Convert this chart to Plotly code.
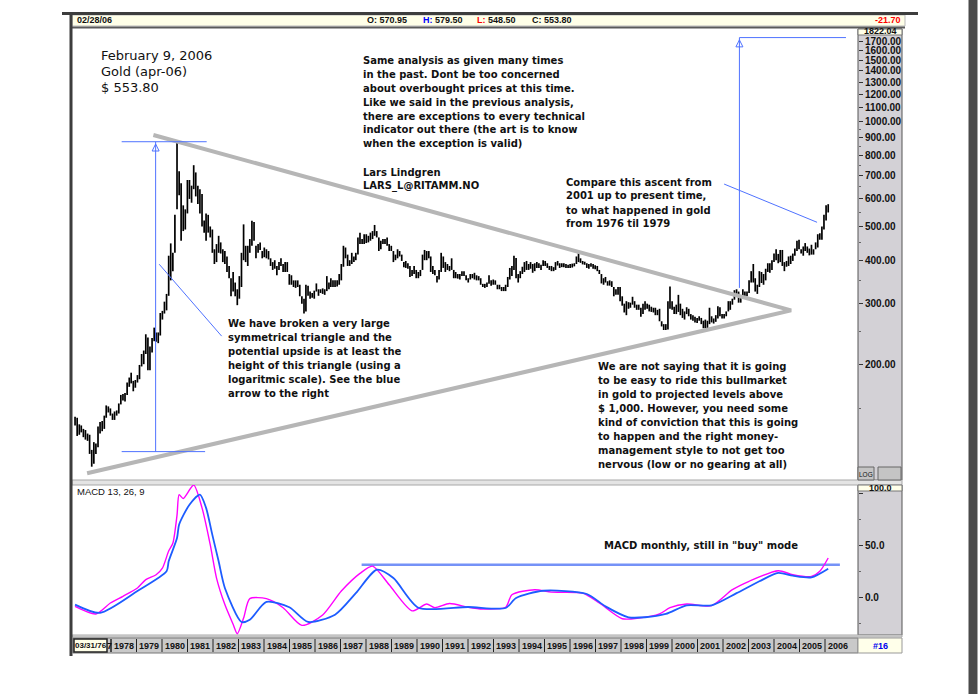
import numpy as np
import pandas as pd
import plotly.graph_objects as go

# monthly gold bars, Dec 1975 .. Feb 2006 (high / low)
first_month = "1975-12-01"

highs = [
    142,
    141, 135, 134, 131, 130, 127, 126, 114, 120, 119, 133, 137,   # 1976
    138, 143, 153, 152, 150, 145, 147, 148, 155, 164, 165, 166,   # 1977
    178, 184, 190, 180, 181, 187, 200, 215, 220, 245, 240, 226,   # 1978
    239, 256, 248, 248, 282, 286, 304, 320, 412, 447, 420, 540,   # 1979
    875, 720, 665, 575, 560, 680, 680, 655, 750, 715, 655, 640,   # 1980
    620, 520, 545, 540, 500, 490, 430, 445, 470, 450, 430, 425,   # 1981
    410, 385, 355, 370, 345, 330, 360, 420, 507, 440, 440, 460,   # 1982
    519, 515, 440, 445, 450, 425, 435, 430, 425, 405, 395, 400,   # 1983
    385, 395, 405, 390, 395, 395, 365, 362, 350, 350, 350, 340,   # 1984
    315, 310, 340, 338, 325, 322, 327, 343, 330, 330, 332, 330,   # 1985
    360, 345, 355, 350, 350, 350, 365, 390, 440, 435, 415, 400,   # 1986
    420, 410, 420, 465, 480, 460, 475, 475, 470, 480, 485, 505,   # 1987
    485, 465, 455, 460, 460, 465, 445, 440, 425, 415, 430, 425,   # 1988
    415, 395, 398, 392, 385, 375, 385, 375, 370, 375, 415, 428,   # 1989
    425, 425, 410, 385, 375, 360, 375, 420, 410, 395, 390, 385,   # 1990
    405, 375, 370, 365, 365, 372, 372, 362, 355, 365, 365, 368,   # 1991
    362, 360, 355, 342, 342, 345, 362, 350, 352, 350, 340, 340,   # 1992
    335, 335, 340, 358, 380, 385, 412, 406, 365, 372, 383, 395,   # 1993
    398, 390, 395, 390, 392, 395, 392, 388, 400, 398, 392, 385,   # 1994
    385, 382, 395, 398, 392, 392, 392, 390, 388, 390, 391, 392,   # 1995
    410, 419, 405, 398, 396, 392, 390, 392, 390, 387, 385, 375,   # 1996
    365, 355, 358, 348, 350, 348, 335, 330, 335, 335, 315, 300,   # 1997
    305, 303, 302, 314, 305, 298, 298, 292, 300, 305, 300, 298,   # 1998
    294, 292, 292, 288, 290, 267, 262, 262, 305, 336, 305, 294,   # 1999
    298, 318, 300, 290, 285, 293, 290, 280, 278, 275, 273, 276,   # 2000
    273, 268, 270, 268, 292, 276, 272, 278, 295, 293, 280, 280,   # 2001
    285, 305, 305, 310, 328, 330, 325, 315, 330, 325, 325, 350,   # 2002
    372, 390, 355, 340, 372, 370, 365, 378, 392, 392, 400, 418,   # 2003
    430, 417, 428, 428, 395, 398, 410, 412, 418, 432, 455, 458,   # 2004
    430, 438, 448, 438, 432, 443, 430, 450, 475, 478, 500, 540,   # 2005
    575, 579.5,                                                   # 2006
]

lows = [
    134,
    125, 126, 128, 124, 122, 121, 111, 102, 104, 111, 116, 127,
    129, 131, 141, 146, 143, 139, 139, 143, 145, 154, 158, 157,
    164, 173, 177, 168, 172, 178, 182, 198, 201, 215, 193, 193,
    217, 234, 233, 231, 243, 270, 281, 287, 316, 350, 372, 420,
    560, 615, 455, 485, 490, 545, 600, 585, 640, 610, 580, 545,
    500, 480, 455, 480, 465, 420, 390, 395, 420, 418, 395, 390,
    370, 355, 315, 325, 315, 297, 310, 335, 400, 395, 385, 420,
    440, 455, 405, 420, 428, 405, 408, 405, 402, 385, 375, 378,
    362, 375, 385, 370, 370, 370, 340, 340, 335, 333, 335, 315,
    300, 281, 285, 316, 310, 312, 310, 325, 316, 322, 320, 318,
    326, 330, 335, 335, 335, 336, 340, 350, 383, 405, 385, 385,
    390, 395, 400, 415, 445, 445, 445, 448, 450, 455, 460, 470,
    465, 425, 430, 445, 445, 440, 425, 425, 395, 400, 405, 410,
    398, 382, 380, 378, 358, 360, 365, 355, 355, 360, 375, 400,
    400, 405, 370, 365, 362, 345, 352, 370, 380, 370, 375, 372,
    375, 355, 355, 354, 352, 360, 360, 350, 345, 352, 355, 352,
    350, 350, 340, 335, 333, 335, 342, 338, 340, 340, 330, 330,
    326, 326, 326, 335, 352, 360, 375, 355, 345, 355, 365, 370,
    375, 375, 378, 368, 372, 380, 380, 375, 385, 385, 380, 375,
    372, 372, 375, 386, 380, 382, 382, 380, 380, 380, 381, 384,
    390, 395, 393, 389, 388, 380, 378, 383, 378, 377, 372, 365,
    343, 340, 345, 338, 338, 335, 315, 318, 318, 305, 296, 283,
    278, 290, 292, 298, 292, 288, 288, 275, 280, 288, 290, 285,
    284, 283, 278, 278, 267, 258, 252, 252, 253, 290, 288, 280,
    280, 284, 278, 273, 270, 280, 276, 270, 268, 265, 264, 268,
    262, 255, 255, 255, 262, 265, 263, 266, 272, 276, 272, 272,
    276, 285, 288, 298, 308, 315, 302, 302, 310, 310, 315, 322,
    345, 345, 325, 320, 335, 344, 340, 350, 370, 368, 375, 395,
    400, 392, 395, 385, 372, 383, 385, 390, 398, 412, 425, 430,
    418, 412, 425, 420, 413, 415, 415, 430, 435, 458, 458, 490,
    520, 548.5,
]

# MACD 13,26,9 (magenta) and its signal line (blue)
fast_dates = ["1975-12", "1976-10", "1977-05", "1977-11", "1978-06", "1978-10", "1979-03",
              "1979-06", "1979-09", "1979-11", "1980-01", "1980-02", "1980-04", "1980-09",
              "1981-01", "1981-05", "1981-08", "1981-12", "1982-04", "1982-06", "1982-09",
              "1982-12", "1983-08", "1984-04", "1985-01", "1985-11", "1986-08", "1987-05",
              "1987-11", "1988-07", "1989-06", "1990-01", "1990-05", "1990-12", "1991-09",
              "1992-04", "1993-03", "1993-06", "1994-05", "1995-01", "1996-04", "1996-12",
              "1997-11", "1998-07", "1999-05", "1999-10", "2000-06", "2001-06", "2002-04",
              "2002-12", "2004-02", "2004-09", "2005-06", "2005-10", "2006-02"]
fast_values = [-8.7, -16, -5.5, 1, 9, 17, 21.7,
               28, 44.5, 52, 79, 98.7, 95, 108,
               86, 50.6, 18.5, -7, -26, -35, -20,
               -1.3, -1.3, -10, -27, -17, 6, 23,
               30, 12, -13, -6.5, -10, -6, -9.6,
               -11.3, -9.6, 2.5, 7.3, 5, 4, -5.5,
               -20.6, -20, -16, -10, -6.5, -8, 7.3,
               15.4, 25.6, 21.7, 20, 25, 37.8]

signal_dates = ["1975-12", "1976-12", "1978-06", "1979-08", "1979-09", "1980-01", "1980-02",
                "1980-07", "1980-12", "1981-03", "1981-06", "1981-09", "1981-12", "1982-08",
                "1982-12", "1983-08", "1984-07", "1985-04", "1986-05", "1987-03", "1988-01",
                "1988-09", "1989-09", "1991-09", "1993-03", "1993-08", "1994-09", "1996-06",
                "1997-03", "1998-02", "1998-10", "1999-08", "2000-06", "2001-06", "2002-06",
                "2003-05", "2004-02", "2004-09", "2005-06", "2006-02"]
signal_values = [-7, -15, 6, 25, 34.6, 57, 70,
                 89, 98.7, 86, 60, 34.6, 9, -23.7,
                 -21.5, -4.5, -9.6, -23.7, -16.7, 4, 26.5,
                 18.5, -10, -9.3, -10.3, -0.7, 6.3, 3.2,
                 -8.7, -19.2, -19.2, -16, -7.7, -7.7, 4,
                 15.4, 23.4, 20.8, 19.2, 27.5]

# hand drawn lines on the chart (date, price)
triangle_dates = ["1979-01-20", "2004-08-07", "1976-05-25"]
triangle_prices = [916, 287, 97.7]
left_arrow_date = "1979-02-22"
left_arrow_prices = [112.7, 876]
left_bar_dates = ["1977-10-13", "1981-03-10"]
left_bar_low_dates = ["1977-10-13", "1981-02-15"]
right_arrow_date = "2002-07-13"
right_arrow_prices = [333, 1745]
right_bar_dates = ["2002-07-13", "2006-10-19"]
left_pointer_dates = ["1979-04-15", "1981-10-15"]
left_pointer_prices = [389.5, 242]
right_pointer_dates = ["2001-12-01", "2005-08-22"]
right_pointer_prices = [662, 514]
macd_level_dates = ["1987-05-25", "2006-07-22"]
macd_level = 31.3

price_ticks = [200, 300, 400, 500, 600, 700, 800, 900,
               1000, 1100, 1200, 1300, 1400, 1500, 1600, 1700]
price_minor = [150, 250, 350, 450, 550, 650, 750, 850, 950]
macd_ticks = [0, 50, 100]
strip_years = list(range(1978, 2007))

months = pd.date_range(first_month, periods=len(highs), freq="MS")

# pixel helpers for the decoration around the plot area
L, R, T, B = 73, 858, 29, 635
def px(x):
    return (x - L) / (R - L)
def py(y):
    return (B - y) / (B - T)

fig = go.Figure()

bx, by = [], []
for d, h, l in zip(months, highs, lows):
    bx += [d, d, None]
    by += [h, l, None]
fig.add_trace(go.Scatter(x=bx, y=by, mode="lines", line=dict(color="#000000", width=1.7),
                         hoverinfo="skip", yaxis="y"))

grey = "#b6b6b6"
blue = "#4f72ff"
fig.add_trace(go.Scatter(x=triangle_dates, y=triangle_prices, mode="lines",
                         line=dict(color=grey, width=4), yaxis="y"))
for xs, ys in [([left_arrow_date] * 2, left_arrow_prices),
               (left_bar_dates, [left_arrow_prices[1]] * 2),
               (left_bar_low_dates, [left_arrow_prices[0]] * 2),
               ([right_arrow_date] * 2, right_arrow_prices),
               (right_bar_dates, [right_arrow_prices[1]] * 2),
               (left_pointer_dates, left_pointer_prices),
               (right_pointer_dates, right_pointer_prices)]:
    fig.add_trace(go.Scatter(x=xs, y=ys, mode="lines", line=dict(color=blue, width=1), yaxis="y"))
fig.add_trace(go.Scatter(x=[left_arrow_date, right_arrow_date],
                         y=[left_arrow_prices[1] * 0.985, right_arrow_prices[1] * 0.985],
                         mode="markers", yaxis="y",
                         marker=dict(symbol="arrow-up-open", size=7, color=blue,
                                     line=dict(color=blue, width=1))))

fig.add_trace(go.Scatter(x=macd_level_dates, y=[macd_level] * 2, mode="lines",
                         line=dict(color="#7592f7", width=2.5), yaxis="y2"))
fig.add_trace(go.Scatter(x=pd.to_datetime(fast_dates), y=fast_values, mode="lines",
                         line=dict(color="#ff00ff", width=1.4, shape="spline", smoothing=0.7),
                         yaxis="y2"))
fig.add_trace(go.Scatter(x=pd.to_datetime(signal_dates), y=signal_values, mode="lines",
                         line=dict(color="#1d5cff", width=1.8, shape="spline", smoothing=0.7),
                         yaxis="y2"))

axis_font = dict(family="Liberation Sans", size=10, color="#111111", weight="bold")
fig.update_layout(
    width=978, height=694, autosize=False,
    margin=dict(l=L, r=978 - R, t=T, b=694 - B),
    paper_bgcolor="white", plot_bgcolor="white",
    showlegend=False, hovermode=False,
    xaxis=dict(range=["1975-11-01", "2007-04-13"], visible=False, showgrid=False),
    yaxis=dict(domain=[py(480), 1], type="log", range=[np.log10(93.4), np.log10(1847)],
               side="right", showgrid=False, zeroline=False, showline=False,
               tickvals=price_ticks, ticktext=[f"{v:.2f}" for v in price_ticks],
               ticks="outside", ticklen=4, tickcolor="#333", tickfont=axis_font,
               minor=dict(tickvals=price_minor, ticks="outside", ticklen=2, tickcolor="#666")),
    yaxis2=dict(domain=[0, py(485)], range=[-36.25, 108], side="right", anchor="x",
                showgrid=False, zeroline=False, showline=False,
                tickvals=macd_ticks,
                ticktext=[f"{v:.1f}" if v < 100 else "" for v in macd_ticks],
                ticks="outside", ticklen=4, tickcolor="#333", tickfont=axis_font,
                minor=dict(tickvals=[-25, 25, 75], ticks="outside", ticklen=2, tickcolor="#666")),
)

shapes = []
def rect(x0, y0, x1, y1, fill, line="rgba(0,0,0,0)", lw=1, layer="below"):
    shapes.append(dict(type="rect", xref="paper", yref="paper", x0=px(x0), x1=px(x1),
                       y0=py(y1), y1=py(y0), fillcolor=fill, layer=layer,
                       line=dict(color=line, width=lw)))
def hline(x0, x1, y, color, lw):
    shapes.append(dict(type="line", xref="paper", yref="paper", x0=px(x0), x1=px(x1),
                       y0=py(y), y1=py(y), line=dict(color=color, width=lw)))
def vline(x, y0, y1, color, lw):
    shapes.append(dict(type="line", xref="paper", yref="paper", x0=px(x), x1=px(x),
                       y0=py(y0), y1=py(y1), line=dict(color=color, width=lw)))

# axis strips, header, separators
rect(858, 29, 902, 480, "#d3d1d6", "#555", 1)
rect(858, 485, 902, 635, "#d3d1d6", "#555", 1)
rect(858, 29, 902, 35, "#ffffea", "#777", 1, "above")
rect(858, 485, 902, 491, "#ffffea", "#777", 1, "above")
rect(858, 467, 874, 480, "#c4c4c4", "#666", 1, "above")
rect(878, 467, 901, 480, "#c4c4c4", "#666", 1, "above")
rect(72, 15, 905, 26, "#ffffe8", "#bbbbbb", 1)
hline(62, 918, 13.5, "#3d3d3d", 3)
hline(72, 905, 27.5, "#5a5a5a", 2)
rect(72, 480, 902, 485, "#e4e4e4", "#a8a8a8", 1)
rect(72, 635, 902, 637, "#e0e0e0", "#a8a8a8", 1)
rect(73, 638, 858, 653, "#c9c9c9", "#777", 1)
rect(74, 639, 107, 652, "#ffffe8", "#222", 1.5, "above")
rect(858, 638, 902, 653, "#ffffea", "#999", 1)
vline(71, 13, 656, "#3d3d3d", 3)
rect(969, 0, 977, 694, "#4a4a4a", "#4a4a4a", 1)
vline(111, 639, 652, "#222", 1)
for i, yr in enumerate(strip_years):
    vline(111 + 25.5 * i, 639, 652, "#222", 1)

annotations = []
def text(x, y, s, size=10, family="DejaVu Sans", bold=True, color="#111111", anchor="left"):
    annotations.append(dict(xref="paper", yref="paper", x=px(x), y=py(y), text=s,
                            showarrow=False, xanchor=anchor, yanchor="middle",
                            font=dict(family=family, size=size, color=color,
                                      weight="bold" if bold else "normal")))

hdr = "Liberation Sans"
text(75, 20.5, "02/28/06", 9, hdr)
text(365, 20.5, "O: 570.95", 9, hdr)
text(421, 20.5, "<span style='color:#0000ff'>H:</span> 579.50", 9, hdr)
text(475, 20.5, "<span style='color:#ff0000'>L:</span> 548.50", 9, hdr)
text(530, 20.5, "C: 553.80", 9, hdr)
text(903, 20.5, "-21.70", 9, hdr, color="#ff0000", anchor="right")
text(880, 31.5, "1822.04", 9, hdr, anchor="center")
text(880, 488.5, "100.0", 9, hdr, anchor="center")
text(866, 474, "LOG", 6.5, hdr, bold=False, anchor="center")
text(75, 491.5, "MACD 13, 26, 9", 9.5, hdr, bold=False)
text(90.5, 645.5, "03/31/76", 8, hdr, anchor="center")
text(109, 645.5, "7", 9, hdr, anchor="center")
for i, yr in enumerate(strip_years):
    text(111 + 25.5 * i + 12.75, 645.5, str(yr), 9, hdr, anchor="center")
text(880, 645.5, "#16", 9, hdr, color="#0000ee", anchor="center")

for i, s in enumerate(["February 9, 2006", "Gold (apr-06)", "$ 553.80"]):
    text(99, 55.7 + 15.8 * i, s, 13, bold=False)

note_top = ["Same analysis as given many times",
            "in the past. Dont be too concerned",
            "about overbought prices at this time.",
            "Like we said in the previous analysis,",
            "there are exceptions to every technical",
            "indicator out there (the art is to know",
            "when the exception is valid)"]
for i, s in enumerate(note_top):
    text(361, 61 + 13.8 * i, s)
for i, s in enumerate(["Lars Lindgren", "LARS_L@RITAMM.NO"]):
    text(361, 172 + 14 * i, s)
note_compare = ["Compare this ascent from", "2001 up to present time,",
                "to what happened in gold", "from 1976 til 1979"]
for i, s in enumerate(note_compare):
    text(564, 182 + 14 * i, s)
note_broken = ["We have broken a very large", "symmetrical triangle and the",
               "potential upside is at least the", "height of this triangle (using a",
               "logaritmic scale). See the blue", "arrow to the right"]
for i, s in enumerate(note_broken):
    text(226, 323.5 + 14 * i, s)
note_saying = ["We are not saying that it is going", "to be easy to ride this bullmarket",
               "in gold to projected levels above", "$ 1,000. However, you need some",
               "kind of conviction that this is going", "to happen and the right money-",
               "management style to not get too", "nervous (low or no gearing at all)"]
for i, s in enumerate(note_saying):
    text(596, 366 + 14 * i, s)
text(602, 545, "MACD monthly, still in \"buy\" mode")

fig.update_layout(shapes=shapes, annotations=annotations)
fig.write_html("out.html", config={"displayModeBar": False},
               post_script="document.body.style.margin='0';")
